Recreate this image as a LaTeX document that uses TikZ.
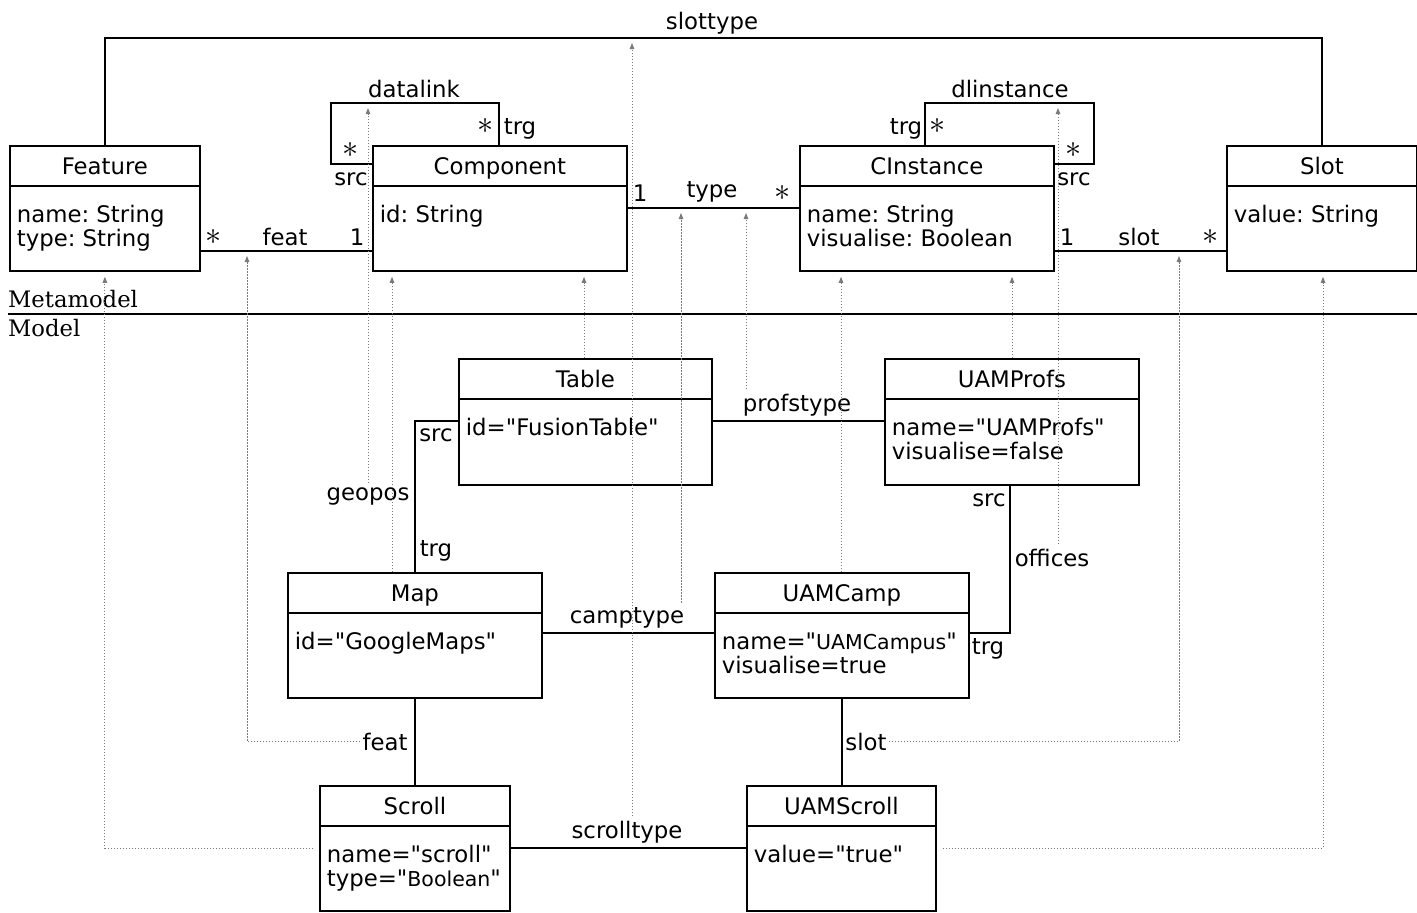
\documentclass[tikz,border=0pt]{standalone}
\usepackage{fontspec}
\setmainfont{DejaVu Sans}[Ligatures=TeXOff]
\newfontfamily\serifm{DejaVu Serif}[Ligatures=TeXOff]
\usetikzlibrary{arrows.meta,calc}
\definecolor{instgray}{HTML}{7A7A7A}
\newcommand\smallfont{\fontsize{20.5}{22}\selectfont}
\newcommand\mstar{\scalebox{1.55}{$\ast$}}
\tikzset{
  every node/.style={inner sep=0pt, font=\fontsize{22.8}{24.3}\selectfont\frenchspacing},
  boxs/.style={draw, line width=1.8pt, rectangle, anchor=north west},
  conn/.style={line width=1.8pt},
  inst/.style={draw=instgray, line width=0.9pt, dash pattern=on 1.5pt off 1.5pt,
    -{Triangle[length=6pt,width=4.5pt]}, shorten >=5pt},
  lbl/.style={anchor=base},
  lblw/.style={anchor=base west}
}
% name x y w h title line1 line2
\newcommand\umlbox[8]{%
  \node[boxs, minimum width=#4pt, minimum height=#5pt] (#1) at (#2,#3) {};
  \draw[conn] ($(#1.north west)+(0,41)$) -- ($(#1.north east)+(0,41)$);
  \node[lbl] (#1-t) at ($(#1.north)+(0,29.3)$) {#6};
  \node[lblw] (#1-a) at ($(#1.north west)+(7.7,77)$) {#7};
  \node[lblw] (#1-b) at ($(#1.north west)+(7.7,101.3)$) {#8};
}
\begin{document}
\begin{tikzpicture}[x=1pt,y=-1pt]
\useasboundingbox (0,0) rectangle (1417,913);

% ---------- Metamodel ----------
\umlbox{feature}{9}{145}{190}{125}{Feature}{name: String}{type: String}
\umlbox{component}{372}{145}{254}{125}{Component}{id: String}{}
\umlbox{cinstance}{799}{145}{254}{125}{CInstance}{name: String}{visualise: Boolean}
\umlbox{slot}{1226}{145}{190}{125}{Slot}{value: String}{}

% slottype
\draw[conn] (feature.north) |- (712,38) -| (slot.north);
\node[lbl] (lslottype) at (712,29) {slottype};

% datalink
\draw[conn] (component.west |- 0,164) -| (331,103) -| (component.north -| 499,0);
\node[lbl] (ldatalink) at (414,97) {datalink};
\node[lbl] (ldlstar1) at (351,157) {\mstar};
\node[lbl] (ldlsrc) at (351,185) {src};
\node[lbl] (ldlstar2) at (486,133) {\mstar};
\node[lbl] (ldltrg) at (520,134) {trg};

% dlinstance
\draw[conn] (cinstance.north -| 925,0) |- (1094,103) |- (cinstance.east |- 0,164);
\node[lbl] (ldlinst) at (1010,97) {dlinstance};
\node[lbl] (ldistrg) at (906,134) {trg};
\node[lbl] (ldistar1) at (938,133) {\mstar};
\node[lbl] (ldistar2) at (1074,157) {\mstar};
\node[lbl] (ldisrc) at (1074,185) {src};

% type
\draw[conn] (component.east |- 0,208) -- (cinstance.west |- 0,208);
\node[lbl] (ltype1) at (640,201) {1};
\node[lbl] (ltype) at (712,197) {type};
\node[lbl] (ltypestar) at (783,200) {\mstar};

% feat
\draw[conn] (feature.east |- 0,251) -- (component.west |- 0,251);
\node[lbl] (lfeatstar) at (214,244) {\mstar};
\node[lbl] (lfeat) at (285,245) {feat};
\node[lbl] (lfeat1) at (357,245) {1};

% slot
\draw[conn] (cinstance.east |- 0,251) -- (slot.west |- 0,251);
\node[lbl] (lslot1) at (1067,245) {1};
\node[lbl] (lslot) at (1139,245) {slot};
\node[lbl] (lslotstar) at (1211,244) {\mstar};

% ---------- separator ----------
\draw[conn] (8,314) -- (1417,314);
\node[lblw, font=\fontsize{22.7}{24}\serifm] (lmeta) at (8,307) {Metamodel};
\node[lblw, font=\fontsize{22.7}{24}\serifm] (lmodel) at (8,336) {Model};

% ---------- Model ----------
\umlbox{table}{458}{358}{253}{126}{Table}{id="FusionTable"}{}
\umlbox{uamprofs}{884}{358}{254}{126}{UAMProfs}{name="UAMProfs"}{visualise=false}
\umlbox{map}{287}{572}{254}{125}{Map}{id="GoogleMaps"}{}
\umlbox{uamcamp}{714}{572}{254}{125}{UAMCamp}{name="{\smallfont UAMCampus}"}{visualise=true}
\umlbox{scroll}{319}{785}{190}{125}{Scroll}{name="scroll"}{type="{\smallfont Boolean}"}
\umlbox{uamscroll}{746}{785}{189}{125}{UAMScroll}{value="true"}{}

% profstype
\draw[conn] (table.east |- 0,421) -- (uamprofs.west |- 0,421);
\node[lbl] (lprofstype) at (797,411) {profstype};

% geopos
\draw[conn] (table.west |- 0,421) -| (map.north -| 415,0);
\node[lbl] (lgeosrc) at (436,441) {src};
\node[lbl] (lgeopos) at (368,500) {geopos};
\node[lbl] (lgeotrg) at (436,556) {trg};

% camptype
\draw[conn] (map.east |- 0,633) -- (uamcamp.west |- 0,633);
\node[lbl] (lcamptype) at (627,623) {camptype};

% offices
\draw[conn] (uamprofs.south -| 1010,0) |- (uamcamp.east |- 0,633);
\node[lbl] (loffsrc) at (989,506) {src};
\node[lbl] (loffices) at (1052,566) {offices};
\node[lbl] (lofftrg) at (988,654) {trg};

% feat (model)
\draw[conn] (map.south) -- (map.south |- scroll.north);
\node[lbl] (lfeatm) at (385,750) {feat};

% slot (model)
\draw[conn] (uamcamp.south) -- (uamcamp.south |- uamscroll.north);
\node[lbl] (lslotm) at (866,750) {slot};

% scrolltype
\draw[conn] (scroll.east |- 0,848) -- (uamscroll.west |- 0,848);
\node[lbl] (lscrolltype) at (627,838) {scrolltype};

% ---------- instance-of arrows ----------
\draw[inst, shorten <=6pt] (scroll.west |- 0,848) -| (feature.south);
\draw[inst, shorten <=2pt] (lfeatm.west) -| (247,251);
\draw[inst, shorten <=4pt] (lgeopos.north -| 368,0) -- (368,103);
\draw[inst] (map.north -| 392,0) -- (component.south -| 392,0);
\draw[inst] (table.north -| 584,0) -- (component.south -| 584,0);
\draw[inst, shorten <=4pt] (lscrolltype.north -| 632,0) -- (632,38);
\draw[inst, shorten <=4pt] (lcamptype.north -| 681,0) -- (681,208);
\draw[inst, shorten <=4pt] (lprofstype.north -| 746,0) -- (746,208);
\draw[inst] (uamcamp.north -| 841,0) -- (cinstance.south -| 841,0);
\draw[inst] (uamprofs.north -| 1012,0) -- (cinstance.south -| 1012,0);
\draw[inst, shorten <=4pt] (loffices.north -| 1058,0) -- (1058,103);
\draw[inst, shorten <=2pt] (lslotm.east) -| (1179,251);
\draw[inst, shorten <=6pt] (uamscroll.east |- 0,848) -| (slot.south -| 1323,0);
\end{tikzpicture}
\end{document}
